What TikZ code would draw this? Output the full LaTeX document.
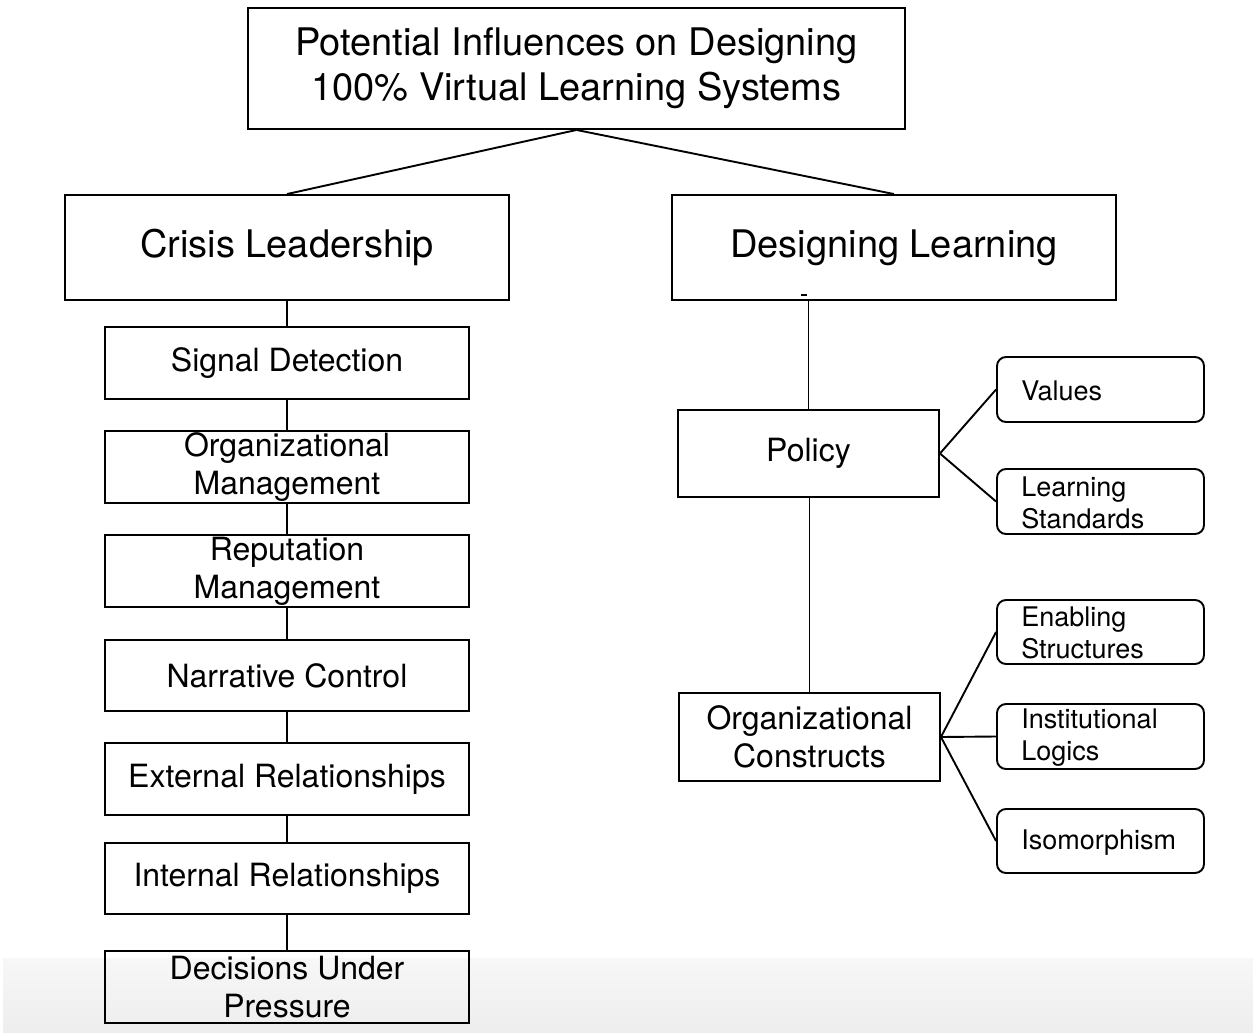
\documentclass[tikz,border=0pt]{standalone}
\usepackage{fontspec}
\setmainfont{TeX Gyre Heros}
\begin{document}
\begin{tikzpicture}[x=1pt,y=-1pt,line width=1.9pt,
  box/.style={draw,rectangle,inner sep=0pt,align=center},
  leaf/.style={draw,rectangle,rounded corners=9pt,inner sep=0pt},
  big/.style={font=\fontsize{38}{45}\selectfont},
  mid/.style={font=\fontsize{32}{38}\selectfont},
  small/.style={font=\fontsize{27}{32}\selectfont}]
  \useasboundingbox (0,0) rectangle (1253,1033);
  % grey band at the bottom
  \shade[top color=white!97!black,bottom color=white!93!black,draw=none]
    (3,958) rectangle (1253,1033);
  % top box
  \node[box,big,minimum width=657pt,minimum height=121pt] (top) at (576.5,68.5)
    {Potential Influences on Designing\\100\% Virtual Learning Systems};
  % two main branches
  \node[box,big,minimum width=444pt,minimum height=105pt] (crisis) at (287,247.5) {Crisis Leadership};
  \node[box,big,minimum width=444pt,minimum height=105pt] (design) at (894,247.5) {Designing Learning};
  % left column
  \node[box,mid,minimum width=364pt,minimum height=72pt] (signal) at (287,363) {Signal Detection};
  \node[box,mid,minimum width=364pt,minimum height=72pt] (orgman) at (287,467) {Organizational\\Management};
  \node[box,mid,minimum width=364pt,minimum height=72pt] (reput) at (287,571) {Reputation\\Management};
  \node[box,mid,minimum width=364pt,minimum height=71pt] (narr) at (287,675.5) {Narrative Control};
  \node[box,mid,minimum width=364pt,minimum height=72pt] (extrel) at (287,779) {External Relationships};
  \node[box,mid,minimum width=364pt,minimum height=71pt] (intrel) at (287,878.5) {Internal Relationships};
  \node[box,mid,minimum width=364pt,minimum height=72pt] (decis) at (287,987) {Decisions Under\\Pressure};
  % right column
  \node[box,mid,minimum width=261pt,minimum height=87pt] (policy) at (808.5,453.5) {Policy};
  \node[box,mid,minimum width=261pt,minimum height=88pt] (constr) at (809.5,737) {Organizational\\Constructs};
  % leaves
  \node[leaf,minimum width=207pt,minimum height=65pt] (values) at (1100.5,389.5) {};
  \node[leaf,minimum width=207pt,minimum height=65pt] (stand) at (1100.5,501.5) {};
  \node[leaf,minimum width=207pt,minimum height=64pt] (enab) at (1100.5,632) {};
  \node[leaf,minimum width=207pt,minimum height=65pt] (instit) at (1100.5,736.5) {};
  \node[leaf,minimum width=207pt,minimum height=64pt] (isom) at (1100.5,841) {};
  \node[small,anchor=west,align=left] at (1017,391) {Values};
  \node[small,anchor=west,align=left] at (1017,503) {Learning\\Standards};
  \node[small,anchor=west,align=left] at (1017,633) {Enabling\\Structures};
  \node[small,anchor=west,align=left] at (1017,738) {Institutional\\Logics};
  \node[small,anchor=west,align=left] at (1017,843) {Isomorphism};
  % connectors
  \draw (top.south) -- (crisis.north);
  \draw (top.south) -- (design.north);
  \draw (crisis.south) -- (signal.north);
  \draw (signal.south) -- (orgman.north);
  \draw (orgman.south) -- (reput.north);
  \draw (reput.south) -- (narr.north);
  \draw (narr.south) -- (extrel.north);
  \draw (extrel.south) -- (intrel.north);
  \draw (intrel.south) -- (decis.north);
  \draw (design.south -| policy.north) -- (policy.north);
  \draw[line width=1.4pt] (801,295) -- (807,295);
  \draw (policy.south -| constr.north) -- (constr.north);
  \draw (policy.east) -- (values.west);
  \draw (policy.east) -- (stand.west);
  \draw (constr.east) -- (enab.west);
  \draw (constr.east) -- (instit.west);
  \draw (constr.east) -- (isom.west);
\end{tikzpicture}
\end{document}
